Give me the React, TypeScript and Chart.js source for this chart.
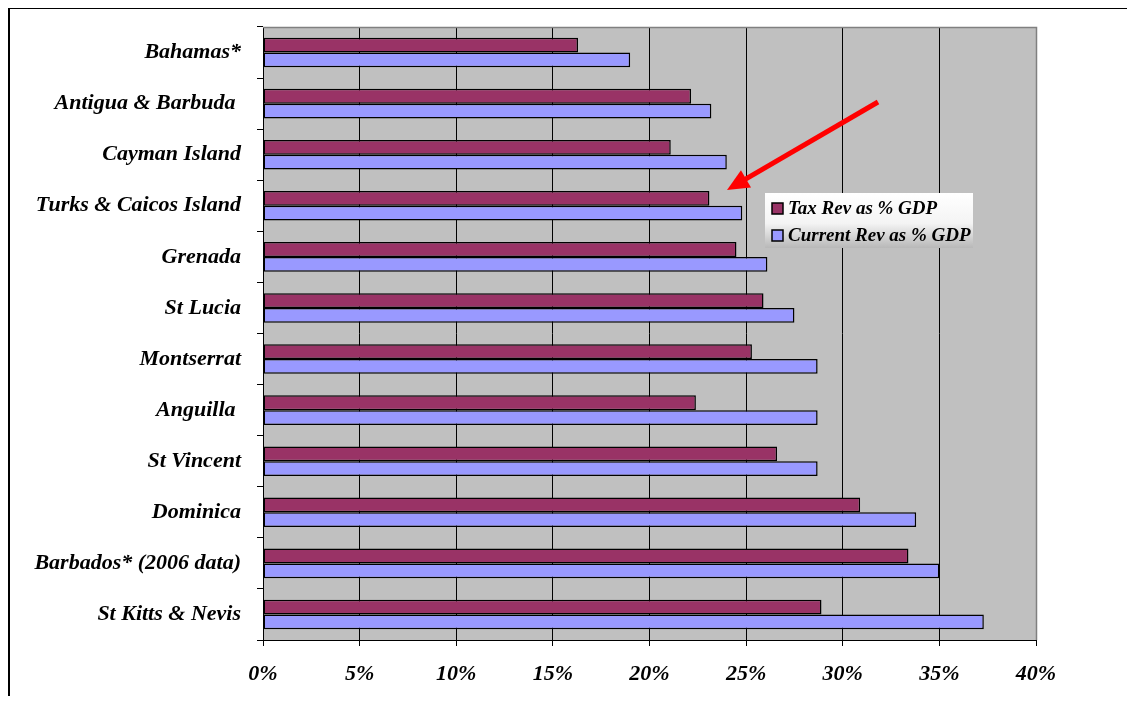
import { useEffect, useRef } from 'react';
import { Chart, registerables } from 'chart.js';
Chart.register(...registerables);

const categories = [
  'Bahamas*',
  'Antigua & Barbuda ',
  'Cayman Island',
  'Turks & Caicos Island',
  'Grenada',
  'St Lucia',
  'Montserrat',
  'Anguilla ',
  'St Vincent',
  'Dominica',
  'Barbados* (2006 data)',
  'St Kitts & Nevis',
];
const taxRev = [16.3, 22.15, 21.1, 23.1, 24.5, 25.9, 25.3, 22.4, 26.6, 30.9, 33.4, 28.9];
const currentRev = [19.0, 23.2, 24.0, 24.8, 26.1, 27.5, 28.7, 28.7, 28.7, 33.8, 35.0, 37.3];
const seriesNames = ['Tax Rev as % GDP', 'Current Rev as % GDP'];
const seriesColors = ['#993366', '#9999FF'];
const xMin = 0;
const xMax = 40;
const xStep = 5;

const FONT_FAMILY = "'Liberation Serif', 'Times New Roman', serif";

const bgPlugin = {
  id: 'plotBg',
  beforeDraw(chart: any) {
    const { ctx, chartArea: a } = chart;
    ctx.save();
    ctx.fillStyle = '#C0C0C0';
    ctx.fillRect(a.left, a.top, a.right - a.left, a.bottom - a.top);
    ctx.restore();
  },
  afterDatasetsDraw(chart: any) {
    const { ctx, chartArea: a } = chart;
    ctx.save();
    ctx.strokeStyle = '#808080';
    ctx.lineWidth = 1.5;
    ctx.beginPath();
    ctx.moveTo(a.left, a.top + 0.5);
    ctx.lineTo(a.right + 0.5, a.top + 0.5);
    ctx.lineTo(a.right + 0.5, a.bottom);
    ctx.stroke();
    ctx.restore();
  },
};

const overlayPlugin = {
  id: 'overlay',
  afterDraw(chart: any) {
    const { ctx } = chart;
    ctx.save();
    // legend box
    const lx = 755, ly = 184, lw = 208, lh = 55;
    const g = ctx.createLinearGradient(0, ly, 0, ly + lh);
    g.addColorStop(0, '#FFFFFF');
    g.addColorStop(0.55, '#F4F4F4');
    g.addColorStop(1, '#B8B8B8');
    ctx.fillStyle = g;
    ctx.fillRect(lx, ly, lw, lh);
    ctx.font = `italic bold 19px ${FONT_FAMILY}`;
    ctx.textBaseline = 'middle';
    ctx.textAlign = 'left';
    const rows = [ly + 15, ly + 42];
    seriesNames.forEach((n, i) => {
      ctx.fillStyle = seriesColors[i];
      ctx.fillRect(lx + 7, rows[i] - 5, 11, 11);
      ctx.strokeStyle = '#000';
      ctx.lineWidth = 1.5;
      ctx.strokeRect(lx + 7, rows[i] - 5, 11, 11);
      ctx.fillStyle = '#000';
      ctx.fillText(n, lx + 23, rows[i] + 1);
    });
    // arrow
    const tx = 868, ty = 93, hx = 717, hy = 181;
    const ang = Math.atan2(hy - ty, hx - tx);
    const headLen = 22, headW = 10;
    const bx = hx - headLen * Math.cos(ang);
    const by = hy - headLen * Math.sin(ang);
    ctx.strokeStyle = '#FF0000';
    ctx.fillStyle = '#FF0000';
    ctx.lineWidth = 5;
    ctx.beginPath();
    ctx.moveTo(tx, ty);
    ctx.lineTo(bx + 3 * Math.cos(ang), by + 3 * Math.sin(ang));
    ctx.stroke();
    ctx.beginPath();
    ctx.moveTo(hx, hy);
    ctx.lineTo(bx + headW * Math.sin(ang), by - headW * Math.cos(ang));
    ctx.lineTo(bx - headW * Math.sin(ang), by + headW * Math.cos(ang));
    ctx.closePath();
    ctx.fill();
    ctx.restore();
  },
};

export default function App() {
  const ref = useRef<HTMLCanvasElement>(null);
  useEffect(() => {
    if (!ref.current) return;
    const font = { family: FONT_FAMILY, size: 22, style: 'italic' as const, weight: 'bold' as const };
    const chart = new Chart(ref.current, {
      type: 'bar',
      data: {
        labels: categories,
        datasets: [
          {
            label: seriesNames[0],
            data: taxRev,
            backgroundColor: seriesColors[0],
            borderColor: '#000',
            borderWidth: 1.5,
            borderSkipped: false,
          },
          {
            label: seriesNames[1],
            data: currentRev,
            backgroundColor: seriesColors[1],
            borderColor: '#000',
            borderWidth: 1.5,
            borderSkipped: false,
          },
        ],
      },
      options: {
        indexAxis: 'y',
        responsive: false,
        animation: false,
        datasets: { bar: { categoryPercentage: 0.58, barPercentage: 1 } },
        layout: { padding: { left: 0, top: 18, right: 99, bottom: 0 } },
        plugins: { legend: { display: false }, tooltip: { enabled: false } },
        scales: {
          x: {
            min: xMin,
            max: xMax,
            ticks: {
              stepSize: xStep,
              color: '#000',
              font,
              padding: 15,
              callback: (v: any) => `${v}%`,
            },
            grid: { color: '#000', lineWidth: 1, tickLength: 6, drawOnChartArea: true },
            border: { color: '#000', width: 1 },
            afterFit: (s: any) => { s.height = 56; },
          },
          y: {
            ticks: { color: '#000', font, padding: 16, autoSkip: false },
            grid: { offset: true, drawOnChartArea: false, tickLength: 6, color: '#000' },
            border: { color: '#000', width: 1 },
            afterFit: (s: any) => {
              s.width = 253;
              s.paddingTop = 0;
              s.paddingBottom = 0;
            },
          },
        },
      },
      plugins: [bgPlugin, overlayPlugin],
    });
    return () => chart.destroy();
  }, []);
  return (
    <div
      style={{
        position: 'relative',
        width: 1127,
        height: 689,
        marginTop: -1,
        borderTop: '2px solid #000',
        borderLeft: '2px solid #000',
        boxSizing: 'border-box',
        overflow: 'hidden',
      }}
    >
      <canvas ref={ref} width={1125} height={687} style={{ display: 'block' }} />
    </div>
  );
}
